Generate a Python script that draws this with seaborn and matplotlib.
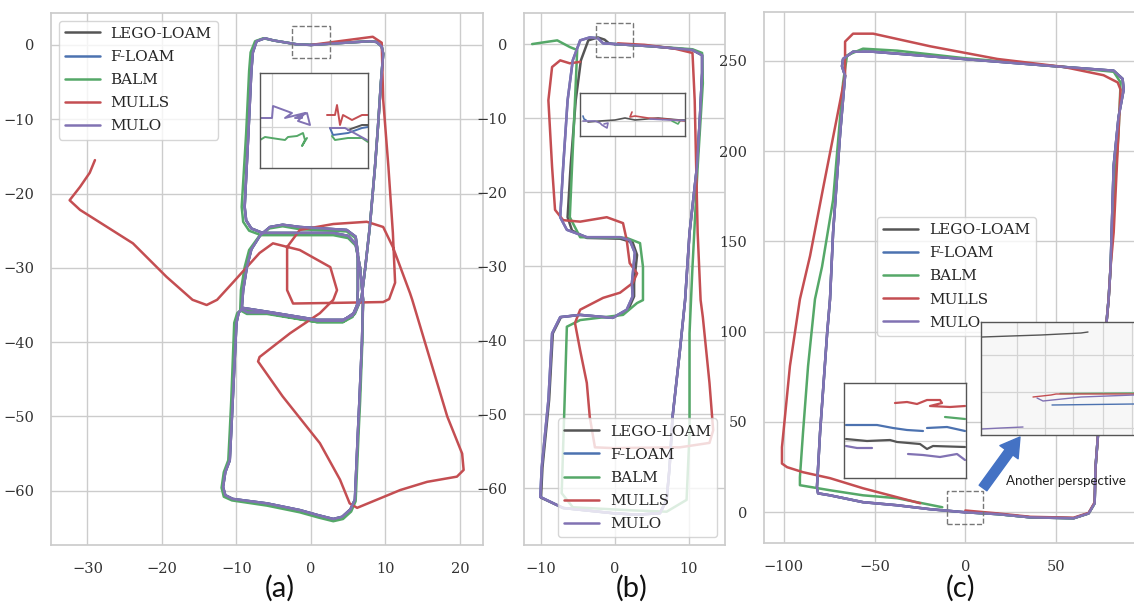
import numpy as np
import pandas as pd
import matplotlib
matplotlib.use("Agg")
import matplotlib.pyplot as plt
import seaborn as sns
from matplotlib.lines import Line2D
from matplotlib.patches import Rectangle, FancyArrowPatch

# ---------------- data ----------------
METHODS = ["LEGO-LOAM", "F-LOAM", "BALM", "MULLS", "MULO"]
COLORS = ["#555555", "#4C72B0", "#55A868", "#C44E52", "#8172B3"]

# panel (a)
A_MAIN_X = [0, -2, -5, -6.2, -7.3, -7.8, -8.0, -8.4, -8.9, -8.7, -8.0, -6.5, -5.9, 3, 5.0, 6.0, 6.6, 7.0, 6.85, 6.5,
            6.3, 5.9, 5.3, 4.2, 3.0, 1.0, -1.5, -5.9, -10.5, -11.5, -11.8, -11.5, -10.9, -10.7, -10.5, -10.0, -9.7, -9.1, -5.9, 0.8,
            4.3, 5.6, 6.2, 6.3, 6.3, 6.0, 4.8, -1.5, -3.8, -5.5, -6.8, -8.0, -8.6, -9.1, -9.3, -8.5, -5.9, 0.8, 4.3, 5.9,
            6.8, 7.3, 7.9, 8.6, 9.0, 9.4, 9.7, 9.5, 8.8, 7.9, 3, 0]
A_MAIN_Y = [0, 0.1, 0.6, 0.9, 0.5, -1, -3.5, -11.9, -21.8, -23.6, -24.7, -25.3, -25.3, -25.3, -25.7, -26.8, -30, -34.3, -40, -48,
            -52.2, -61.2, -62.5, -63.5, -63.8, -63.3, -62.6, -61.7, -61.1, -60.6, -59.5, -57.5, -55.9, -52, -47.8, -37.4, -36, -35.4, -35.9, -37,
            -37, -36.4, -35, -33, -28, -25.8, -24.9, -24.5, -24.2, -24.5, -25.6, -27.5, -29.9, -33, -35.6, -36, -36.0, -37.1, -37.1, -36.0,
            -34, -29.9, -24.5, -16.4, -11, -5, -1.2, -0.2, 0.4, 0.5, 0.2, 0]
A_BALM_X = [0, -2, -5, -6.4, -7.5, -8.1, -8.3, -8.7, -9.3, -9.1, -8.3, -6.7, -5.9, 3, 5.0, 6.0, 6.6, 7.0, 6.9, 6.6,
            6.4, 6.0, 5.4, 4.3, 3.0, 1.0, -1.5, -5.9, -10.6, -11.7, -12.0, -11.7, -11.1, -10.9, -10.7, -10.3, -9.9, -9.3, -5.9, 0.8,
            4.3, 5.6, 6.2, 6.3, 6.3, 6.0, 4.8, -1.5, -3.8, -5.6, -7.0, -8.3, -8.9, -9.4, -9.5, -8.6, -5.9, 0.8, 4.3, 5.9,
            6.8, 7.3, 7.9, 8.6, 9.0, 9.4, 9.7, 9.5, 8.8, 7.9, 3, 0]
A_BALM_Y = [0, 0.1, 0.6, 0.9, 0.5, -1, -3.5, -11.9, -21.8, -23.8, -25.0, -25.6, -25.6, -25.6, -26.0, -27.0, -30, -34.3, -40, -48,
            -52.2, -61.4, -62.8, -63.8, -64.1, -63.6, -62.9, -62.0, -61.3, -60.8, -59.6, -57.5, -55.9, -52, -47.8, -37.4, -36.1, -35.6, -36.1, -37.3,
            -37.3, -36.6, -35.1, -33, -28, -26.0, -25.1, -24.8, -24.4, -24.7, -25.8, -27.6, -29.9, -33, -35.7, -36.2, -36.2, -37.3, -37.3, -36.2,
            -34, -29.9, -24.5, -16.4, -11, -5, -1.2, -0.2, 0.4, 0.5, 0.2, 0]
A_MULLS_X = [0, 3, 8.3, 9.5, 9.7, 10.4, 11, 11.3, 10.5, 9.7, 4, -2.4, -3.2, -3.2, -3.2, -1.5, 3, 7.5, 9.7, 11, 13.3, 13.6,
             15.6, 18.3, 20.3, 20.5, 19.6, 15.6, 12, 6.2, 5.2, 3.9, 1.2, -3.8, -7.1, -6.9, -2.8, 1.2, 3, 3.5, 2.6, -1.5,
             -5.1, -6.9, -10.5, -12.6, -14, -15.9, -19.4, -23.9, -31, -32.4, -31, -29.7, -29]
A_MULLS_Y = [0, 0.4, 1.1, 0.3, -7.4, -16.4, -25.3, -32, -34.2, -34.6, -34.7, -34.8, -33, -31.2, -27.2, -24.9, -24.1, -23.8, -24.5, -27.2, -33.4, -34.3,
             -41, -50, -55, -57.2, -58.1, -58.8, -59.9, -62.3, -61.7, -58.5, -53.6, -47.3, -42.6, -42, -38.8, -36.1, -34.3, -33, -29.9, -27.6,
             -26.7, -28, -32, -34.3, -35, -34.3, -31.2, -26.7, -22.2, -20.9, -19.1, -17.2, -15.5]

# panel (b)
B_MAIN_X = [0, 5, 10.5, 11.8, 11.8, 11.5, 11.1, 10.1, 9.5, 8.8, 7.8, 7.4, 7.0, 6.1, 3, -0.3, -7, -10.1, -9.9, -9, -8.5,
            -7.4, -4.7, -0.3, 1.6, 2.4, 2.3, 2.7, 2, 0.7, -3.8, -6.5, -7.4, -7, -6.4, -5.7, -4.7, -3.4, -2.3, -1.6, 0]
B_MAIN_Y = [0, -0.3, -0.8, -1.5, -3.9, -10, -16.6, -25.5, -34.6, -41.4, -50.4, -57.2, -61.6, -63.4, -63.6, -63.4, -62.7, -61.2, -57.2, -48.1, -39.1,
            -36.9, -36.6, -37, -35.9, -34.1, -32.3, -28.2, -26.5, -26.1, -26.1, -25.1, -23.4, -16.6, -7.6, -2.2, 0.5, 0.9, 0.8, 0.1, 0]
B_LEGO_X = [0, 5, 10.5, 11.8, 11.8, 11.5, 11.1, 10.1, 9.5, 8.8, 7.8, 7.4, 7.0, 6.1, 3, -0.3, -7, -10, -9.8, -8.9, -8.4,
            -7.3, -4.7, -0.3, 1.8, 2.6, 2.6, 3.0, 2.4, 0.7, -3.8, -5.8, -6.4, -6.0, -5.3, -4.6, -3.6, -2.3, -1.4, -0.8, 0]
B_LEGO_Y = [0, -0.3, -0.8, -1.5, -3.9, -10, -16.6, -25.5, -34.6, -41.4, -50.4, -57.2, -61.6, -63.4, -63.6, -63.4, -62.7, -61.3, -57.2, -48.1, -39.1,
            -36.9, -36.6, -37, -35.9, -34.1, -32.3, -28.5, -26.8, -26.3, -26.2, -25.2, -23.4, -16.6, -7.6, -2.2, 0.5, 0.9, 0.6, 0.1, 0]
B_BALM_X = [-11.2, -9.2, -7.8, -6.1, -5.1, -5.4, -5.8, -6.1, -4.7, 1.6, 3.4, 3.8, 3.8, 3, 1.1, -4.7, -6.5, -6.8, -7.2, -5.7,
            2, 7, 9.7, 10.1, 10.1, 10.5, 11.2, 11.9, 11.8, 10.5, 5, 0]
B_BALM_Y = [0, 0.3, 0.5, -0.4, -0.8, -7.6, -16.6, -23.4, -26.1, -26.2, -26.9, -30.1, -34.6, -35, -36.6, -37.3, -38.2, -48.1, -60.7, -62.6,
            -63, -63.2, -61.6, -52.6, -39.1, -30.1, -16.6, -5.3, -1.2, -0.7, -0.3, 0]
B_MULLS_X = [-4.7, -6.1, -7.4, -8.5, -9, -8.5, -8.1, -7, -4.7, -1.1, 1.1, 1.6, 2, 3, 2.4, 0.7, -1.6, -4.7, -5.4, -4.7,
             -3.8, -3.4, -2.7, -0.3, 8.8, 12.8, 13.3, 12.8, 11.9, 11.6, 11.2, 11.0, 10.8, 10.5, 8, 4, 0.4]
B_MULLS_Y = [-2.4, -2.6, -2.2, -3.1, -7.6, -16.6, -22.4, -23.8, -24, -23.4, -24.2, -26.5, -29.6, -31, -32.3, -33.6, -34.3, -35.9, -37.7, -41.4,
             -45.8, -50.4, -54.5, -54.6, -54.5, -53.9, -52.2, -45.8, -36.9, -34.6, -25.5, -16.6, -7.6, -1.2, -0.6, -0.1, 0.1]

# panel (c)
C_MAIN_X = [0, 17.7, 35.9, 59.7, 68, 71.3, 71.8, 74.6, 77.3, 79, 80.1, 81.8, 84.5, 87.3, 86.7, 81.8, 54.1, -1.1, -50.8, -61.9,
            -67.4, -68, -66.3, -69, -72.9, -74.6, -76.2, -80.1, -81.8, -81.2, -74.6, -56.4, -37.6, -19.3, 0]
C_MAIN_Y = [0, -1, -2.8, -3.3, -0.6, 5, 25, 62, 99, 118, 136, 192, 219, 234, 240, 244.5, 246.6, 251, 255, 255,
            251, 247, 241.7, 210, 155, 118, 99, 44, 14, 10.5, 9.4, 5.6, 3.9, 1.7, 0]
C_BALM_X = [0, 17.7, 35.9, 59.7, 68, 71.3, 71.8, 74.6, 77.3, 79, 80.1, 81.8, 84.5, 85.6, 81.8, 54.1, -1.1, -37.6, -56.4, -65.2,
            -67.4, -72.9, -79, -82.9, -86.7, -89.5, -91.2, -91.2, -74.6, -56.4, -37.6, -12.7]
C_BALM_Y = [0, -1, -2.8, -3.3, -0.6, 5, 25, 62, 99, 118, 136, 173, 210, 238, 243.9, 246.6, 251.5, 255.6, 256.7, 253,
            238, 173, 136, 118, 81, 44, 19.4, 15, 12.2, 9.4, 7.8, 2.8]
C_MULLS_X = [0, 17.7, 35.9, 59.7, 68, 71.3, 71.8, 74.6, 77.3, 79, 80.1, 81.8, 84, 85.6, 84, 76.2, 54.1, 17.7, -19.3, -50.8,
             -61.9, -66.3, -66.3, -70.7, -78.5, -85.6, -91.2, -96.7, -101.1, -101.1, -98.3, -89.5, -74.6, -56.4, -24.9]
C_MULLS_Y = [1, -0.6, -2.5, -3, -0.3, 5.5, 25, 62, 99, 118, 136, 155, 201, 234, 238, 242, 246.6, 251, 258, 265,
             265, 260.6, 241.7, 219, 179, 142, 118, 81, 36, 27, 25, 22.2, 18.9, 13.3, 5]

# inset (a) : zoom of the dashed box
IA_MULO_L_U = [0, 12, 13, 32, 25, 45, 38, 50, 47, 35, 42]
IA_MULO_L_V = [52, 52, 64, 57, 52, 57, 49, 45, 57, 52, 52]
IA_BALM_L_U = [0, 5, 18, 25, 28, 37, 43, 45, 42, 47]
IA_BALM_L_V = [30, 33, 31, 30, 33, 34, 37, 30, 24, 32]
IA_MULLS_U = [67, 75, 77, 80, 83, 92, 102, 108]
IA_MULLS_V = [55, 55, 65, 45, 55, 50, 55, 55]
IA_FLOAM_U = [70, 73, 88, 102, 108]
IA_FLOAM_V = [42, 35, 37, 42, 43]
IA_MULO_R_U = [70, 85, 107]
IA_MULO_R_V = [42, 42, 30]
IA_LEGO_U = [88, 102, 108]
IA_LEGO_V = [40, 45, 45]
IA_BALM_R_U = [72, 75, 88, 102, 108]
IA_BALM_R_V = [34, 30, 32, 32, 28]

# inset (b)
IB_FLOAM_U = [3, 4, 6]
IB_FLOAM_V = [20, 17, 16]
IB_MULO_U = [3, 15, 20, 22, 27, 28, 24]
IB_MULO_V = [15, 15, 13, 11, 8, 13, 12]
IB_LEGO_U = [8, 20, 35, 45, 55, 78, 100, 105]
IB_LEGO_V = [14, 15, 16, 18, 16, 18, 16, 16]
IB_MULLS_U = [52, 50, 55, 68, 85, 105]
IB_MULLS_V = [24, 19, 20, 18, 17, 15]
IB_MULO_R_U = [70, 90, 105]
IB_MULO_R_V = [17, 16, 15.5]
IB_BALM_U = [92, 98, 100]
IB_BALM_V = [15, 12, 15]

# inset (c) 1
IC1_MULLS_U = [51, 63, 73, 83, 96, 98, 86, 106, 121]
IC1_MULLS_V = [75, 76, 74, 78, 78, 75, 72, 71, 72]
IC1_BALM_U = [101, 121]
IC1_BALM_V = [61, 59]
IC1_FLOAM_L_U = [2, 16, 33, 49, 63, 79]
IC1_FLOAM_L_V = [53, 53, 53, 50, 48, 47]
IC1_FLOAM_R_U = [83, 103, 121]
IC1_FLOAM_R_V = [50, 51, 47]
IC1_LEGO_U = [2, 23, 46, 53, 76, 83, 89, 121]
IC1_LEGO_V = [39, 37, 38, 36, 34, 29, 32, 31]
IC1_MULO_L_U = [2, 13, 28]
IC1_MULO_L_V = [32, 30, 30]
IC1_MULO_R_U = [64, 79, 96, 113, 121]
IC1_MULO_R_V = [24, 23, 21, 24, 18]

# inset (c) 2 : another perspective
IC2_LEGO_U = [1, 30, 60, 80, 100, 107]
IC2_LEGO_V = [98, 99, 100, 101, 102, 103]
IC2_MULLS_U = [52, 70, 75, 153]
IC2_MULLS_V = [38, 40, 41, 41]
IC2_BALM_U = [79, 153]
IC2_BALM_V = [41.5, 42]
IC2_MULO_U = [56, 62, 100, 153]
IC2_MULO_V = [37, 34, 38, 40]
IC2_FLOAM_U = [71, 153]
IC2_FLOAM_V = [30, 31]
IC2_MULO_B_U = [1, 20, 42]
IC2_MULO_B_V = [6, 7, 8]

# ---------------- style ----------------
sns.set_theme(style="whitegrid")
plt.rcParams["font.family"] = ["DejaVu Serif"]
PAL = dict(zip(METHODS, COLORS))

W, H = 1134, 603
fig = plt.figure(figsize=(W / 100, H / 100), dpi=100)


def px_axes(l, t, r, b):
    return fig.add_axes([l / W, 1 - b / H, (r - l) / W, (b - t) / H])


def main_panel(ax, series, xlim, ylim, xticks, yticks):
    frames = []
    for m in METHODS:
        xs, ys = series[m]
        frames.append(pd.DataFrame({"method": m, "x": xs, "y": ys}))
    df = pd.concat(frames, ignore_index=True)
    sns.lineplot(data=df, x="x", y="y", hue="method", hue_order=METHODS, palette=PAL,
                 sort=False, estimator=None, legend=False, lw=1.8, ax=ax)
    ax.set_xlim(*xlim)
    ax.set_ylim(*ylim)
    ax.set_xticks(xticks)
    ax.set_yticks(yticks)
    ax.set_xlabel("")
    ax.set_ylabel("")
    ax.tick_params(labelsize=10.5, pad=6, colors="#333333")


def legend(ax, **kw):
    handles = [Line2D([0], [0], color=c, lw=1.8) for c in COLORS]
    ax.legend(handles, METHODS, fontsize=11, labelspacing=0.6, handlelength=2.3,
              handletextpad=0.7, **kw)


def inset(box, segs, xlim, ylim, gx, gy, face="white", lw=1.4, hide_right=False):
    ia = px_axes(*box)
    frames = []
    for k, (m, us, vs) in enumerate(segs):
        frames.append(pd.DataFrame({"method": m, "seg": k, "u": us, "v": vs}))
    df = pd.concat(frames, ignore_index=True)
    sns.lineplot(data=df, x="u", y="v", hue="method", hue_order=METHODS, palette=PAL,
                 units="seg", estimator=None, sort=False, legend=False, lw=lw, ax=ia)
    ia.set_xlim(*xlim)
    ia.set_ylim(*ylim)
    ia.set_xticks(gx)
    ia.set_yticks(gy)
    ia.set_xticklabels([])
    ia.set_yticklabels([])
    ia.set_xlabel("")
    ia.set_ylabel("")
    ia.set_facecolor(face)
    ia.grid(True, color="#d4d4d4", lw=0.9)
    ia.tick_params(length=0)
    for s in ia.spines.values():
        s.set_edgecolor("#555555")
        s.set_linewidth(1.0)
    if hide_right:
        ia.spines["right"].set_visible(False)
    return ia


def dashed(ax, x0, y0, x1, y1):
    ax.add_patch(Rectangle((x0, y0), x1 - x0, y1 - y0, fill=False, ls="--",
                           ec="#777777", lw=1.0, zorder=5))


# ---- panel (a)
axa = px_axes(51, 13, 483, 545)
main_panel(axa, {"LEGO-LOAM": (A_MAIN_X, A_MAIN_Y), "F-LOAM": (A_MAIN_X, A_MAIN_Y),
                 "BALM": (A_BALM_X, A_BALM_Y), "MULLS": (A_MULLS_X, A_MULLS_Y),
                 "MULO": (A_MAIN_X, A_MAIN_Y)},
           (-34.9, 23.1), (-67.3, 4.3), [-30, -20, -10, 0, 10, 20], [0, -10, -20, -30, -40, -50, -60])
legend(axa, loc="upper left")
dashed(axa, -2.55, -1.75, 2.55, 2.55)

# ---- panel (b)
axb = px_axes(524, 13, 725, 545)
main_panel(axb, {"LEGO-LOAM": (B_LEGO_X, B_LEGO_Y), "F-LOAM": (B_MAIN_X, B_MAIN_Y),
                 "BALM": (B_BALM_X, B_BALM_Y), "MULLS": (B_MULLS_X, B_MULLS_Y),
                 "MULO": (B_MAIN_X, B_MAIN_Y)},
           (-12.3, 14.9), (-67.7, 4.2), [-10, 0, 10], [0, -10, -20, -30, -40, -50, -60])
legend(axb, loc="lower right")
dashed(axb, -2.6, -1.75, 2.4, 2.8)

# ---- panel (c)
axc = px_axes(764, 12, 1134, 543)
main_panel(axc, {"LEGO-LOAM": (C_MAIN_X, C_MAIN_Y), "F-LOAM": (C_MAIN_X, C_MAIN_Y),
                 "BALM": (C_BALM_X, C_BALM_Y), "MULLS": (C_MULLS_X, C_MULLS_Y),
                 "MULO": (C_MAIN_X, C_MAIN_Y)},
           (-111, 93), (-17, 277), [-100, -50, 0, 50], [0, 50, 100, 150, 200, 250])
axc.spines["right"].set_visible(False)
legend(axc, loc="upper left", bbox_to_anchor=(877 / W, 1 - 217 / H),
       bbox_transform=fig.transFigure, borderaxespad=0)
dashed(axc, -10, -6.7, 10, 11.7)

# ---- insets
inset((260, 73, 368, 168),
      [("MULO", IA_MULO_L_U, IA_MULO_L_V), ("BALM", IA_BALM_L_U, IA_BALM_L_V),
       ("MULLS", IA_MULLS_U, IA_MULLS_V), ("LEGO-LOAM", IA_LEGO_U, IA_LEGO_V),
       ("F-LOAM", IA_FLOAM_U, IA_FLOAM_V), ("BALM", IA_BALM_R_U, IA_BALM_R_V),
       ("MULO", IA_MULO_R_U, IA_MULO_R_V)],
      (0, 108), (2, 97), [12, 71], [43])
inset((580, 93, 685, 136),
      [("F-LOAM", IB_FLOAM_U, IB_FLOAM_V), ("MULO", IB_MULO_U, IB_MULO_V),
       ("LEGO-LOAM", IB_LEGO_U, IB_LEGO_V), ("MULLS", IB_MULLS_U, IB_MULLS_V),
       ("MULO", IB_MULO_R_U, IB_MULO_R_V), ("BALM", IB_BALM_U, IB_BALM_V)],
      (0, 105), (0, 43), [30, 55, 82], [15], lw=1.2)
inset((844, 383, 966, 478),
      [("MULLS", IC1_MULLS_U, IC1_MULLS_V), ("BALM", IC1_BALM_U, IC1_BALM_V),
       ("F-LOAM", IC1_FLOAM_L_U, IC1_FLOAM_L_V), ("F-LOAM", IC1_FLOAM_R_U, IC1_FLOAM_R_V),
       ("LEGO-LOAM", IC1_LEGO_U, IC1_LEGO_V), ("MULO", IC1_MULO_L_U, IC1_MULO_L_V),
       ("MULO", IC1_MULO_R_U, IC1_MULO_R_V)],
      (0, 122), (0, 95), [51], [37], lw=1.6)
inset((981, 322, 1134, 435),
      [("LEGO-LOAM", IC2_LEGO_U, IC2_LEGO_V), ("F-LOAM", IC2_FLOAM_U, IC2_FLOAM_V),
       ("MULO", IC2_MULO_U, IC2_MULO_V), ("BALM", IC2_BALM_U, IC2_BALM_V),
       ("MULLS", IC2_MULLS_U, IC2_MULLS_V), ("MULO", IC2_MULO_B_U, IC2_MULO_B_V)],
      (0, 153), (0, 113), [36, 64, 92, 122, 151], [7, 43, 80], face="#f7f7f7", lw=1.0,
      hide_right=True)

# ---- arrow + annotation
fig.add_artist(FancyArrowPatch((983 / W, 1 - 488 / H), (1020 / W, 1 - 437 / H),
                               transform=fig.transFigure, shrinkA=0, shrinkB=0,
                               arrowstyle="simple,head_width=0.9,head_length=0.75,tail_width=0.38",
                               mutation_scale=18, color="#4472C4"))
fig.text(1006 / W, 1 - 481 / H, "Another perspective", family=["Lato", "DejaVu Sans"],
         fontsize=9.6, color="#222222", ha="left", va="center")

# ---- panel labels
for lab, xc in [("(a)", 280), ("(b)", 632), ("(c)", 961)]:
    fig.text(xc / W, 1 - 588 / H, lab, family=["Lato", "DejaVu Sans"], fontsize=21,
             color="#111111", ha="center", va="center")

fig.savefig("out.png", dpi=100)
